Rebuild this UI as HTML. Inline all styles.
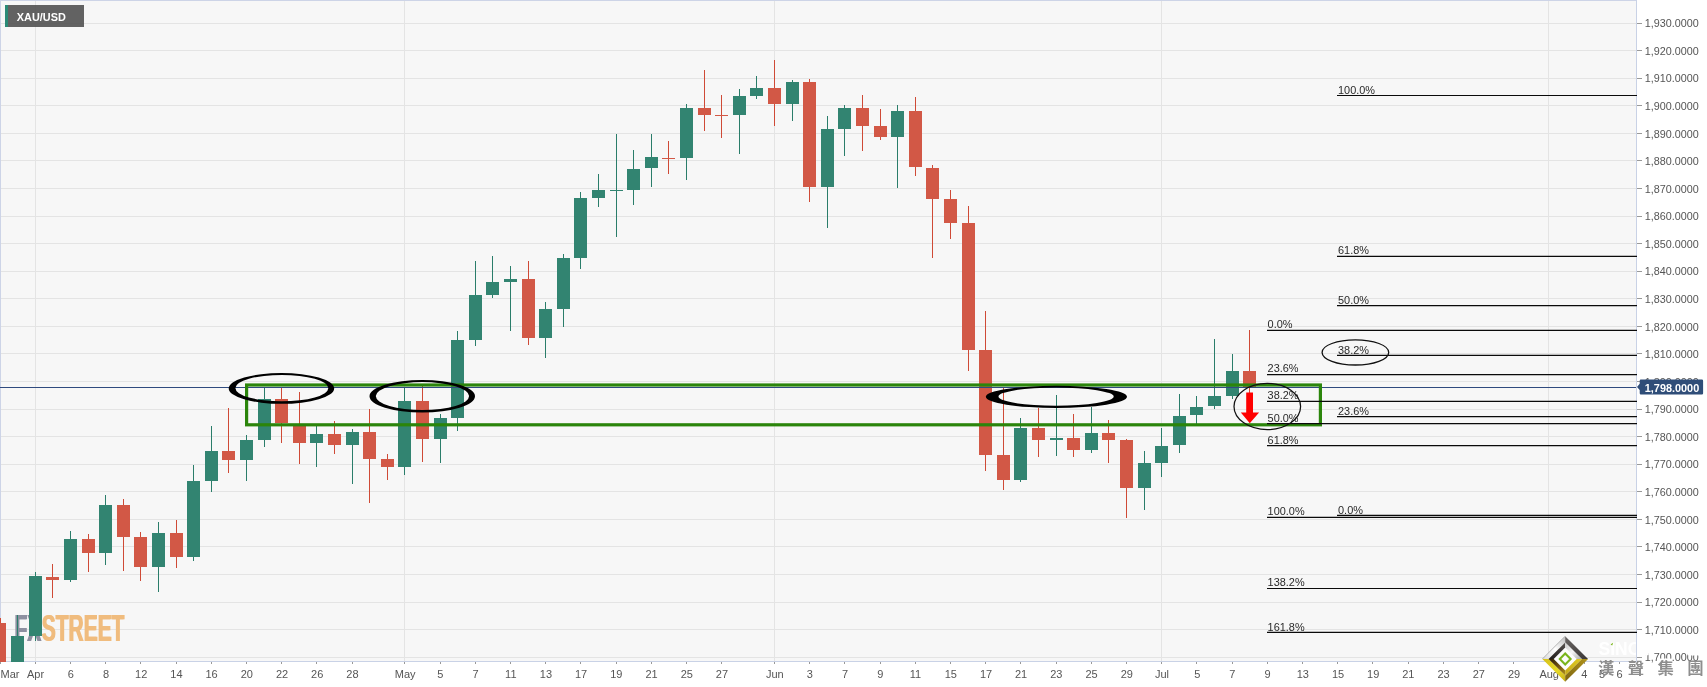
<!DOCTYPE html>
<html lang="en"><head><meta charset="utf-8"><title>XAU/USD</title>
<style>html,body{margin:0;padding:0;background:#fff;overflow:hidden}svg{display:block;will-change:transform}text{font-family:"Liberation Sans",sans-serif}.ax{font-size:11px;fill:#555}.fb{font-size:11px;fill:#2a2a2a}.cjk{font-family:"Liberation Sans","Noto Sans CJK TC","Noto Sans CJK SC",sans-serif}.wf{filter:drop-shadow(1px 0 0 #8d90a0)}.ws{filter:drop-shadow(1px 0 0 #f0bc7e)}</style></head><body>
<svg width="1707" height="687" viewBox="0 0 1707 687">
<rect x="0" y="0" width="1707" height="687" fill="#ffffff"/>
<rect x="0" y="0" width="1636" height="661" fill="#f7f7f7"/>
<g stroke="#e4e4e4" stroke-width="1" shape-rendering="crispEdges">
<line x1="0" y1="657.5" x2="1636" y2="657.5"/>
<line x1="0" y1="629.5" x2="1636" y2="629.5"/>
<line x1="0" y1="602.5" x2="1636" y2="602.5"/>
<line x1="0" y1="574.5" x2="1636" y2="574.5"/>
<line x1="0" y1="546.5" x2="1636" y2="546.5"/>
<line x1="0" y1="519.5" x2="1636" y2="519.5"/>
<line x1="0" y1="491.5" x2="1636" y2="491.5"/>
<line x1="0" y1="464.5" x2="1636" y2="464.5"/>
<line x1="0" y1="436.5" x2="1636" y2="436.5"/>
<line x1="0" y1="409.5" x2="1636" y2="409.5"/>
<line x1="0" y1="381.5" x2="1636" y2="381.5"/>
<line x1="0" y1="353.5" x2="1636" y2="353.5"/>
<line x1="0" y1="326.5" x2="1636" y2="326.5"/>
<line x1="0" y1="298.5" x2="1636" y2="298.5"/>
<line x1="0" y1="271.5" x2="1636" y2="271.5"/>
<line x1="0" y1="243.5" x2="1636" y2="243.5"/>
<line x1="0" y1="216.5" x2="1636" y2="216.5"/>
<line x1="0" y1="188.5" x2="1636" y2="188.5"/>
<line x1="0" y1="160.5" x2="1636" y2="160.5"/>
<line x1="0" y1="133.5" x2="1636" y2="133.5"/>
<line x1="0" y1="105.5" x2="1636" y2="105.5"/>
<line x1="0" y1="78.5" x2="1636" y2="78.5"/>
<line x1="0" y1="50.5" x2="1636" y2="50.5"/>
<line x1="0" y1="23.5" x2="1636" y2="23.5"/>
<line x1="35.5" y1="0" x2="35.5" y2="661"/>
<line x1="404.5" y1="0" x2="404.5" y2="661"/>
<line x1="774.5" y1="0" x2="774.5" y2="661"/>
<line x1="1161.5" y1="0" x2="1161.5" y2="661"/>
<line x1="1548.5" y1="0" x2="1548.5" y2="661"/>
</g>
<rect x="0" y="0" width="1636" height="1" fill="#cdd4e7" shape-rendering="crispEdges"/>
<rect x="0" y="0" width="1" height="661" fill="#cdd4e7" shape-rendering="crispEdges"/>
<rect x="1636" y="0" width="1" height="662" fill="#c9d2e6" shape-rendering="crispEdges"/>
<rect x="0" y="661" width="1637" height="1" fill="#c9d2e6" shape-rendering="crispEdges"/>
<g font-weight="bold" font-size="36.8px"><text class="wf" x="13.9" y="641.4" fill="#8d90a0" textLength="26.8" lengthAdjust="spacingAndGlyphs">FX</text><text class="ws" x="41.3" y="641.4" fill="#f0bc7e" textLength="82.6" lengthAdjust="spacingAndGlyphs">STREET</text></g>
<clipPath id="pc"><rect x="0" y="0" width="1636" height="662"/></clipPath>
<g clip-path="url(#pc)" shape-rendering="crispEdges">
<rect x="0" y="618" width="1" height="52" fill="#cf4a36"/>
<rect x="-6" y="623" width="12.4" height="47" fill="#d25846"/>
<rect x="17" y="615" width="1" height="55" fill="#2a7d6a"/>
<rect x="11" y="636" width="13" height="34" fill="#328471"/>
<rect x="35" y="572" width="1" height="69" fill="#2a7d6a"/>
<rect x="29" y="576" width="13" height="60" fill="#328471"/>
<rect x="52" y="564" width="1" height="34" fill="#cf4a36"/>
<rect x="46" y="577" width="13" height="3" fill="#d25846"/>
<rect x="70" y="531" width="1" height="51" fill="#2a7d6a"/>
<rect x="64" y="539" width="13" height="41" fill="#328471"/>
<rect x="88" y="534" width="1" height="38" fill="#cf4a36"/>
<rect x="82" y="539" width="13" height="14" fill="#d25846"/>
<rect x="105" y="495" width="1" height="70" fill="#2a7d6a"/>
<rect x="99" y="505" width="13" height="48" fill="#328471"/>
<rect x="123" y="499" width="1" height="72" fill="#cf4a36"/>
<rect x="117" y="505" width="13" height="32" fill="#d25846"/>
<rect x="140" y="532" width="1" height="49" fill="#cf4a36"/>
<rect x="134" y="537" width="13" height="30" fill="#d25846"/>
<rect x="158" y="522" width="1" height="70" fill="#2a7d6a"/>
<rect x="152" y="533" width="13" height="34" fill="#328471"/>
<rect x="176" y="520" width="1" height="48" fill="#cf4a36"/>
<rect x="170" y="533" width="13" height="24" fill="#d25846"/>
<rect x="193" y="465" width="1" height="96" fill="#2a7d6a"/>
<rect x="187" y="481" width="13" height="76" fill="#328471"/>
<rect x="211" y="426" width="1" height="66" fill="#2a7d6a"/>
<rect x="205" y="451" width="13" height="30" fill="#328471"/>
<rect x="228" y="408" width="1" height="65" fill="#cf4a36"/>
<rect x="222" y="451" width="13" height="9" fill="#d25846"/>
<rect x="246" y="435" width="1" height="46" fill="#2a7d6a"/>
<rect x="240" y="440" width="13" height="20" fill="#328471"/>
<rect x="264" y="388" width="1" height="59" fill="#2a7d6a"/>
<rect x="258" y="399" width="13" height="41" fill="#328471"/>
<rect x="281" y="388" width="1" height="55" fill="#cf4a36"/>
<rect x="275" y="399" width="13" height="24" fill="#d25846"/>
<rect x="299" y="392" width="1" height="72" fill="#cf4a36"/>
<rect x="293" y="426" width="13" height="17" fill="#d25846"/>
<rect x="316" y="426" width="1" height="41" fill="#2a7d6a"/>
<rect x="310" y="434" width="13" height="9" fill="#328471"/>
<rect x="334" y="421" width="1" height="33" fill="#cf4a36"/>
<rect x="328" y="434" width="13" height="11" fill="#d25846"/>
<rect x="352" y="429" width="1" height="55" fill="#2a7d6a"/>
<rect x="346" y="432" width="13" height="13" fill="#328471"/>
<rect x="369" y="409" width="1" height="94" fill="#cf4a36"/>
<rect x="363" y="432" width="13" height="27" fill="#d25846"/>
<rect x="387" y="454" width="1" height="26" fill="#cf4a36"/>
<rect x="381" y="459" width="13" height="8" fill="#d25846"/>
<rect x="404" y="388" width="1" height="87" fill="#2a7d6a"/>
<rect x="398" y="401" width="13" height="66" fill="#328471"/>
<rect x="422" y="386" width="1" height="76" fill="#cf4a36"/>
<rect x="416" y="401" width="13" height="38" fill="#d25846"/>
<rect x="440" y="414" width="1" height="49" fill="#2a7d6a"/>
<rect x="434" y="418" width="13" height="21" fill="#328471"/>
<rect x="457" y="331" width="1" height="100" fill="#2a7d6a"/>
<rect x="451" y="340" width="13" height="78" fill="#328471"/>
<rect x="475" y="261" width="1" height="85" fill="#2a7d6a"/>
<rect x="469" y="295" width="13" height="45" fill="#328471"/>
<rect x="492" y="256" width="1" height="42" fill="#2a7d6a"/>
<rect x="486" y="282" width="13" height="13" fill="#328471"/>
<rect x="510" y="266" width="1" height="65" fill="#2a7d6a"/>
<rect x="504" y="279" width="13" height="3" fill="#328471"/>
<rect x="528" y="261" width="1" height="84" fill="#cf4a36"/>
<rect x="522" y="279" width="13" height="59" fill="#d25846"/>
<rect x="545" y="302" width="1" height="56" fill="#2a7d6a"/>
<rect x="539" y="309" width="13" height="29" fill="#328471"/>
<rect x="563" y="254" width="1" height="73" fill="#2a7d6a"/>
<rect x="557" y="258" width="13" height="51" fill="#328471"/>
<rect x="580" y="192" width="1" height="77" fill="#2a7d6a"/>
<rect x="574" y="198" width="13" height="60" fill="#328471"/>
<rect x="598" y="174" width="1" height="33" fill="#2a7d6a"/>
<rect x="592" y="190" width="13" height="8" fill="#328471"/>
<rect x="616" y="134" width="1" height="103" fill="#2a7d6a"/>
<rect x="610" y="190" width="13" height="1" fill="#328471"/>
<rect x="633" y="150" width="1" height="55" fill="#2a7d6a"/>
<rect x="627" y="169" width="13" height="21" fill="#328471"/>
<rect x="651" y="134" width="1" height="53" fill="#2a7d6a"/>
<rect x="645" y="157" width="13" height="11" fill="#328471"/>
<rect x="668" y="141" width="1" height="33" fill="#cf4a36"/>
<rect x="662" y="158" width="13" height="1" fill="#d25846"/>
<rect x="686" y="104" width="1" height="76" fill="#2a7d6a"/>
<rect x="680" y="108" width="13" height="50" fill="#328471"/>
<rect x="704" y="70" width="1" height="61" fill="#cf4a36"/>
<rect x="698" y="108" width="13" height="7" fill="#d25846"/>
<rect x="721" y="95" width="1" height="43" fill="#cf4a36"/>
<rect x="715" y="115" width="13" height="1" fill="#d25846"/>
<rect x="739" y="89" width="1" height="65" fill="#2a7d6a"/>
<rect x="733" y="96" width="13" height="19" fill="#328471"/>
<rect x="756" y="76" width="1" height="23" fill="#2a7d6a"/>
<rect x="750" y="88" width="13" height="8" fill="#328471"/>
<rect x="774" y="60" width="1" height="66" fill="#cf4a36"/>
<rect x="768" y="88" width="13" height="16" fill="#d25846"/>
<rect x="792" y="80" width="1" height="41" fill="#2a7d6a"/>
<rect x="786" y="82" width="13" height="22" fill="#328471"/>
<rect x="809" y="79" width="1" height="123" fill="#cf4a36"/>
<rect x="803" y="82" width="13" height="105" fill="#d25846"/>
<rect x="827" y="116" width="1" height="112" fill="#2a7d6a"/>
<rect x="821" y="129" width="13" height="58" fill="#328471"/>
<rect x="844" y="105" width="1" height="51" fill="#2a7d6a"/>
<rect x="838" y="108" width="13" height="21" fill="#328471"/>
<rect x="862" y="95" width="1" height="56" fill="#cf4a36"/>
<rect x="856" y="108" width="13" height="18" fill="#d25846"/>
<rect x="880" y="109" width="1" height="31" fill="#cf4a36"/>
<rect x="874" y="126" width="13" height="11" fill="#d25846"/>
<rect x="897" y="105" width="1" height="83" fill="#2a7d6a"/>
<rect x="891" y="111" width="13" height="26" fill="#328471"/>
<rect x="915" y="97" width="1" height="79" fill="#cf4a36"/>
<rect x="909" y="111" width="13" height="56" fill="#d25846"/>
<rect x="932" y="165" width="1" height="93" fill="#cf4a36"/>
<rect x="926" y="168" width="13" height="31" fill="#d25846"/>
<rect x="950" y="190" width="1" height="49" fill="#cf4a36"/>
<rect x="944" y="199" width="13" height="24" fill="#d25846"/>
<rect x="968" y="206" width="1" height="165" fill="#cf4a36"/>
<rect x="962" y="223" width="13" height="127" fill="#d25846"/>
<rect x="985" y="311" width="1" height="160" fill="#cf4a36"/>
<rect x="979" y="350" width="13" height="105" fill="#d25846"/>
<rect x="1003" y="388" width="1" height="102" fill="#cf4a36"/>
<rect x="997" y="455" width="13" height="25" fill="#d25846"/>
<rect x="1020" y="418" width="1" height="64" fill="#2a7d6a"/>
<rect x="1014" y="428" width="13" height="52" fill="#328471"/>
<rect x="1038" y="408" width="1" height="49" fill="#cf4a36"/>
<rect x="1032" y="428" width="13" height="12" fill="#d25846"/>
<rect x="1056" y="395" width="1" height="61" fill="#2a7d6a"/>
<rect x="1050" y="438" width="13" height="2" fill="#328471"/>
<rect x="1073" y="414" width="1" height="43" fill="#cf4a36"/>
<rect x="1067" y="438" width="13" height="12" fill="#d25846"/>
<rect x="1091" y="407" width="1" height="46" fill="#2a7d6a"/>
<rect x="1085" y="433" width="13" height="17" fill="#328471"/>
<rect x="1108" y="420" width="1" height="43" fill="#cf4a36"/>
<rect x="1102" y="433" width="13" height="7" fill="#d25846"/>
<rect x="1126" y="439" width="1" height="79" fill="#cf4a36"/>
<rect x="1120" y="440" width="13" height="48" fill="#d25846"/>
<rect x="1144" y="451" width="1" height="59" fill="#2a7d6a"/>
<rect x="1138" y="463" width="13" height="25" fill="#328471"/>
<rect x="1161" y="428" width="1" height="49" fill="#2a7d6a"/>
<rect x="1155" y="446" width="13" height="17" fill="#328471"/>
<rect x="1179" y="394" width="1" height="59" fill="#2a7d6a"/>
<rect x="1173" y="416" width="13" height="29" fill="#328471"/>
<rect x="1196" y="396" width="1" height="28" fill="#2a7d6a"/>
<rect x="1190" y="407" width="13" height="8" fill="#328471"/>
<rect x="1214" y="339" width="1" height="70" fill="#2a7d6a"/>
<rect x="1208" y="396" width="13" height="10" fill="#328471"/>
<rect x="1232" y="354" width="1" height="45" fill="#2a7d6a"/>
<rect x="1226" y="371" width="13" height="25" fill="#328471"/>
<rect x="1249" y="330" width="1" height="63" fill="#cf4a36"/>
<rect x="1243" y="371" width="13" height="16" fill="#d25846"/>
</g>
<rect x="0" y="387" width="1636" height="1" fill="#2f4a7e" shape-rendering="crispEdges"/>
<rect x="246.6" y="385" width="1073.8" height="39.8" fill="none" stroke="#2b850b" stroke-width="3.2"/>
<g stroke="#0a0a0a" stroke-width="1.2">
<line x1="1267" y1="330.45" x2="1637" y2="330.45"/>
<line x1="1267" y1="374.55" x2="1637" y2="374.55"/>
<line x1="1267" y1="401.4" x2="1637" y2="401.4"/>
<line x1="1267" y1="423.6" x2="1637" y2="423.6"/>
<line x1="1267" y1="445.7" x2="1637" y2="445.7"/>
<line x1="1267" y1="517.45" x2="1637" y2="517.45"/>
<line x1="1267" y1="588.5" x2="1637" y2="588.5"/>
<line x1="1267" y1="632.3" x2="1637" y2="632.3"/>
<line x1="1337" y1="95.5" x2="1637" y2="95.5"/>
<line x1="1337" y1="256.4" x2="1637" y2="256.4"/>
<line x1="1337" y1="305.65" x2="1637" y2="305.65"/>
<line x1="1337" y1="355.4" x2="1637" y2="355.4"/>
<line x1="1337" y1="416.7" x2="1637" y2="416.7"/>
<line x1="1337" y1="515.45" x2="1637" y2="515.45"/>
</g>
<g class="fb">
<text x="1267.6" y="328" textLength="25" lengthAdjust="spacingAndGlyphs">0.0%</text>
<text x="1267.6" y="372" textLength="31" lengthAdjust="spacingAndGlyphs">23.6%</text>
<text x="1267.6" y="399" textLength="31" lengthAdjust="spacingAndGlyphs">38.2%</text>
<text x="1267.6" y="422" textLength="31" lengthAdjust="spacingAndGlyphs">50.0%</text>
<text x="1267.6" y="444" textLength="31" lengthAdjust="spacingAndGlyphs">61.8%</text>
<text x="1267.6" y="515" textLength="37" lengthAdjust="spacingAndGlyphs">100.0%</text>
<text x="1267.6" y="586" textLength="37" lengthAdjust="spacingAndGlyphs">138.2%</text>
<text x="1267.6" y="630.7" textLength="37" lengthAdjust="spacingAndGlyphs">161.8%</text>
<text x="1338" y="94" textLength="37" lengthAdjust="spacingAndGlyphs">100.0%</text>
<text x="1338" y="254" textLength="31" lengthAdjust="spacingAndGlyphs">61.8%</text>
<text x="1338" y="303.5" textLength="31" lengthAdjust="spacingAndGlyphs">50.0%</text>
<text x="1338" y="353.8" textLength="31" lengthAdjust="spacingAndGlyphs">38.2%</text>
<text x="1338" y="415" textLength="31" lengthAdjust="spacingAndGlyphs">23.6%</text>
<text x="1338" y="513.5" textLength="25" lengthAdjust="spacingAndGlyphs">0.0%</text>
</g>
<path fill="#000" fill-rule="evenodd" d="M228.70,388.40a52.75,15.4 0 1,0 105.5,0a52.75,15.4 0 1,0 -105.5,0zM235.35,388.10a46.5,13.2 0 1,0 93.0,0a46.5,13.2 0 1,0 -93.0,0z"/>
<path fill="#000" fill-rule="evenodd" d="M369.50,396.25a52.75,16.25 0 1,0 105.5,0a52.75,16.25 0 1,0 -105.5,0zM375.80,396.10a46.65,14.0 0 1,0 93.3,0a46.65,14.0 0 1,0 -93.3,0z"/>
<path fill="#000" fill-rule="evenodd" d="M985.80,396.85a70.6,11.05 0 1,0 141.2,0a70.6,11.05 0 1,0 -141.2,0zM998.50,396.60a57.6,9.1 0 1,0 115.2,0a57.6,9.1 0 1,0 -115.2,0z"/>
<ellipse cx="1267.3" cy="406.5" rx="33.3" ry="23.1" fill="none" stroke="#111" stroke-width="1.25"/>
<ellipse cx="1355.4" cy="352.4" rx="33.3" ry="12.6" fill="none" stroke="#111" stroke-width="1.3"/>
<path fill="#ff0000" d="M1246.2,392.5H1253V412.4H1259.1L1249.8,423.2L1240.8,412.4H1246.2z"/>
<g fill="#999" shape-rendering="crispEdges">
<rect x="1637" y="657" width="5" height="1"/>
<rect x="1637" y="629" width="5" height="1"/>
<rect x="1637" y="602" width="5" height="1"/>
<rect x="1637" y="574" width="5" height="1"/>
<rect x="1637" y="546" width="5" height="1"/>
<rect x="1637" y="519" width="5" height="1"/>
<rect x="1637" y="491" width="5" height="1"/>
<rect x="1637" y="464" width="5" height="1"/>
<rect x="1637" y="436" width="5" height="1"/>
<rect x="1637" y="409" width="5" height="1"/>
<rect x="1637" y="381" width="5" height="1"/>
<rect x="1637" y="353" width="5" height="1"/>
<rect x="1637" y="326" width="5" height="1"/>
<rect x="1637" y="298" width="5" height="1"/>
<rect x="1637" y="271" width="5" height="1"/>
<rect x="1637" y="243" width="5" height="1"/>
<rect x="1637" y="216" width="5" height="1"/>
<rect x="1637" y="188" width="5" height="1"/>
<rect x="1637" y="160" width="5" height="1"/>
<rect x="1637" y="133" width="5" height="1"/>
<rect x="1637" y="105" width="5" height="1"/>
<rect x="1637" y="78" width="5" height="1"/>
<rect x="1637" y="50" width="5" height="1"/>
<rect x="1637" y="23" width="5" height="1"/>
</g><g class="ax">
<text x="1644.8" y="661.3" textLength="54" lengthAdjust="spacingAndGlyphs">1,700.0000</text>
<text x="1644.8" y="633.7" textLength="54" lengthAdjust="spacingAndGlyphs">1,710.0000</text>
<text x="1644.8" y="606.2" textLength="54" lengthAdjust="spacingAndGlyphs">1,720.0000</text>
<text x="1644.8" y="578.6" textLength="54" lengthAdjust="spacingAndGlyphs">1,730.0000</text>
<text x="1644.8" y="551.0" textLength="54" lengthAdjust="spacingAndGlyphs">1,740.0000</text>
<text x="1644.8" y="523.5" textLength="54" lengthAdjust="spacingAndGlyphs">1,750.0000</text>
<text x="1644.8" y="495.9" textLength="54" lengthAdjust="spacingAndGlyphs">1,760.0000</text>
<text x="1644.8" y="468.3" textLength="54" lengthAdjust="spacingAndGlyphs">1,770.0000</text>
<text x="1644.8" y="440.8" textLength="54" lengthAdjust="spacingAndGlyphs">1,780.0000</text>
<text x="1644.8" y="413.2" textLength="54" lengthAdjust="spacingAndGlyphs">1,790.0000</text>
<text x="1644.8" y="385.6" textLength="54" lengthAdjust="spacingAndGlyphs">1,800.0000</text>
<text x="1644.8" y="358.0" textLength="54" lengthAdjust="spacingAndGlyphs">1,810.0000</text>
<text x="1644.8" y="330.5" textLength="54" lengthAdjust="spacingAndGlyphs">1,820.0000</text>
<text x="1644.8" y="302.9" textLength="54" lengthAdjust="spacingAndGlyphs">1,830.0000</text>
<text x="1644.8" y="275.3" textLength="54" lengthAdjust="spacingAndGlyphs">1,840.0000</text>
<text x="1644.8" y="247.8" textLength="54" lengthAdjust="spacingAndGlyphs">1,850.0000</text>
<text x="1644.8" y="220.2" textLength="54" lengthAdjust="spacingAndGlyphs">1,860.0000</text>
<text x="1644.8" y="192.6" textLength="54" lengthAdjust="spacingAndGlyphs">1,870.0000</text>
<text x="1644.8" y="165.0" textLength="54" lengthAdjust="spacingAndGlyphs">1,880.0000</text>
<text x="1644.8" y="137.5" textLength="54" lengthAdjust="spacingAndGlyphs">1,890.0000</text>
<text x="1644.8" y="109.9" textLength="54" lengthAdjust="spacingAndGlyphs">1,900.0000</text>
<text x="1644.8" y="82.3" textLength="54" lengthAdjust="spacingAndGlyphs">1,910.0000</text>
<text x="1644.8" y="54.8" textLength="54" lengthAdjust="spacingAndGlyphs">1,920.0000</text>
<text x="1644.8" y="27.2" textLength="54" lengthAdjust="spacingAndGlyphs">1,930.0000</text>
</g>
<g fill="#999" shape-rendering="crispEdges">
<rect x="0" y="662" width="1" height="2"/>
<rect x="35" y="662" width="1" height="2"/>
<rect x="70" y="662" width="1" height="2"/>
<rect x="105" y="662" width="1" height="2"/>
<rect x="140" y="662" width="1" height="2"/>
<rect x="176" y="662" width="1" height="2"/>
<rect x="211" y="662" width="1" height="2"/>
<rect x="246" y="662" width="1" height="2"/>
<rect x="281" y="662" width="1" height="2"/>
<rect x="316" y="662" width="1" height="2"/>
<rect x="352" y="662" width="1" height="2"/>
<rect x="404" y="662" width="1" height="2"/>
<rect x="440" y="662" width="1" height="2"/>
<rect x="475" y="662" width="1" height="2"/>
<rect x="510" y="662" width="1" height="2"/>
<rect x="545" y="662" width="1" height="2"/>
<rect x="580" y="662" width="1" height="2"/>
<rect x="616" y="662" width="1" height="2"/>
<rect x="651" y="662" width="1" height="2"/>
<rect x="686" y="662" width="1" height="2"/>
<rect x="721" y="662" width="1" height="2"/>
<rect x="774" y="662" width="1" height="2"/>
<rect x="809" y="662" width="1" height="2"/>
<rect x="844" y="662" width="1" height="2"/>
<rect x="880" y="662" width="1" height="2"/>
<rect x="915" y="662" width="1" height="2"/>
<rect x="950" y="662" width="1" height="2"/>
<rect x="985" y="662" width="1" height="2"/>
<rect x="1020" y="662" width="1" height="2"/>
<rect x="1056" y="662" width="1" height="2"/>
<rect x="1091" y="662" width="1" height="2"/>
<rect x="1126" y="662" width="1" height="2"/>
<rect x="1161" y="662" width="1" height="2"/>
<rect x="1196" y="662" width="1" height="2"/>
<rect x="1232" y="662" width="1" height="2"/>
<rect x="1267" y="662" width="1" height="2"/>
<rect x="1302" y="662" width="1" height="2"/>
<rect x="1337" y="662" width="1" height="2"/>
<rect x="1372" y="662" width="1" height="2"/>
<rect x="1408" y="662" width="1" height="2"/>
<rect x="1443" y="662" width="1" height="2"/>
<rect x="1478" y="662" width="1" height="2"/>
<rect x="1513" y="662" width="1" height="2"/>
<rect x="1548" y="662" width="1" height="2"/>
<rect x="1584" y="662" width="1" height="2"/>
<rect x="1601" y="662" width="1" height="2"/>
<rect x="1619" y="662" width="1" height="2"/>
</g><g class="ax" text-anchor="middle">
<text x="35.5" y="678.3">Apr</text>
<text x="70.8" y="678.3">6</text>
<text x="106.0" y="678.3">8</text>
<text x="141.2" y="678.3">12</text>
<text x="176.4" y="678.3">14</text>
<text x="211.6" y="678.3">16</text>
<text x="246.8" y="678.3">20</text>
<text x="282.0" y="678.3">22</text>
<text x="317.2" y="678.3">26</text>
<text x="352.4" y="678.3">28</text>
<text x="405.2" y="678.3">May</text>
<text x="440.4" y="678.3">5</text>
<text x="475.6" y="678.3">7</text>
<text x="510.8" y="678.3">11</text>
<text x="545.9" y="678.3">13</text>
<text x="581.1" y="678.3">17</text>
<text x="616.3" y="678.3">19</text>
<text x="651.5" y="678.3">21</text>
<text x="686.8" y="678.3">25</text>
<text x="721.9" y="678.3">27</text>
<text x="774.8" y="678.3">Jun</text>
<text x="809.9" y="678.3">3</text>
<text x="845.1" y="678.3">7</text>
<text x="880.4" y="678.3">9</text>
<text x="915.5" y="678.3">11</text>
<text x="950.8" y="678.3">15</text>
<text x="986.0" y="678.3">17</text>
<text x="1021.1" y="678.3">21</text>
<text x="1056.3" y="678.3">23</text>
<text x="1091.5" y="678.3">25</text>
<text x="1126.8" y="678.3">29</text>
<text x="1162.0" y="678.3">Jul</text>
<text x="1197.2" y="678.3">5</text>
<text x="1232.3" y="678.3">7</text>
<text x="1267.5" y="678.3">9</text>
<text x="1302.8" y="678.3">13</text>
<text x="1338.0" y="678.3">15</text>
<text x="1373.2" y="678.3">19</text>
<text x="1408.3" y="678.3">21</text>
<text x="1443.5" y="678.3">23</text>
<text x="1478.8" y="678.3">27</text>
<text x="1514.0" y="678.3">29</text>
<text x="1549.2" y="678.3">Aug</text>
<text x="1584.4" y="678.3">4</text>
<text x="1602.0" y="678.3">5</text>
<text x="1619.5" y="678.3">6</text>
</g>
<text class="ax" x="0.6" y="678.3">Mar</text>
<path fill="#2f4d78" d="M1637,386.9L1639.7,383.7V380.8a1.2,1.2 0 0 1 1.2,-1.2H1701.9a1.2,1.2 0 0 1 1.2,1.2V393.3a1.2,1.2 0 0 1 -1.2,1.2H1640.9a1.2,1.2 0 0 1 -1.2,-1.2V390.1z"/>
<text x="1644.8" y="391.8" font-size="11px" font-weight="bold" fill="#fff" textLength="54.4" lengthAdjust="spacingAndGlyphs">1,798.0000</text>
<rect x="5" y="5" width="79" height="22" fill="#515151" fill-opacity="0.9"/>
<rect x="5" y="5" width="3" height="22" fill="#2a8a76"/>
<text x="16.8" y="21" font-size="11px" font-weight="bold" fill="#fff" textLength="49" lengthAdjust="spacingAndGlyphs">XAU/USD</text>
<defs><linearGradient id="gA" x1="0" y1="1" x2="1" y2="0"><stop offset="0" stop-color="#d9d9d9"/><stop offset="0.5" stop-color="#ffffff"/><stop offset="1" stop-color="#bcbcbc"/></linearGradient><linearGradient id="gB" x1="0" y1="1" x2="1" y2="0"><stop offset="0" stop-color="#1f1a18"/><stop offset="1" stop-color="#55504e"/></linearGradient><linearGradient id="gC" x1="0" y1="0" x2="1" y2="1"><stop offset="0" stop-color="#6a6665"/><stop offset="1" stop-color="#3a3635"/></linearGradient><linearGradient id="gD" x1="0" y1="0" x2="1" y2="1"><stop offset="0" stop-color="#c9c9c9"/><stop offset="0.5" stop-color="#f6f6f6"/><stop offset="1" stop-color="#a9a9a9"/></linearGradient><linearGradient id="gE" x1="0" y1="0" x2="1" y2="1"><stop offset="0" stop-color="#d6c11a"/><stop offset="0.6" stop-color="#e6d826"/><stop offset="1" stop-color="#c7ae18"/></linearGradient><linearGradient id="gF" x1="0" y1="0" x2="1" y2="1"><stop offset="0" stop-color="#2a1a08"/><stop offset="0.6" stop-color="#7a5a12"/><stop offset="1" stop-color="#b3951a"/></linearGradient><linearGradient id="gG" x1="0" y1="1" x2="1" y2="0"><stop offset="0" stop-color="#7d6512"/><stop offset="1" stop-color="#b0921a"/></linearGradient><linearGradient id="gH" x1="0" y1="1" x2="1" y2="0"><stop offset="0" stop-color="#c4a818"/><stop offset="1" stop-color="#e0cb22"/></linearGradient></defs>
<polygon fill="#fdfdfd" points="1565.20,647.40 1576.70,659.00 1565.20,670.60 1553.70,659.00"/>
<polygon fill="url(#gA)" points="1542.35,659.00 1565.20,636.15 1565.20,642.40 1548.60,659.00"/>
<polygon fill="url(#gB)" points="1548.60,659.00 1565.20,642.40 1565.20,647.40 1553.70,659.00"/>
<polygon fill="url(#gC)" points="1565.20,636.15 1588.05,659.00 1581.80,659.00 1565.20,642.40"/>
<polygon fill="url(#gD)" points="1565.20,642.40 1581.80,659.00 1576.70,659.00 1565.20,647.40"/>
<polygon fill="url(#gE)" points="1542.35,659.00 1565.20,681.85 1565.20,675.60 1548.60,659.00"/>
<polygon fill="url(#gF)" points="1548.60,659.00 1565.20,675.60 1565.20,670.60 1553.70,659.00"/>
<polygon fill="url(#gG)" points="1565.20,681.85 1588.05,659.00 1581.80,659.00 1565.20,675.60"/>
<polygon fill="url(#gH)" points="1565.20,675.60 1581.80,659.00 1576.70,659.00 1565.20,670.60"/>
<polyline fill="none" stroke="#9a9a9a" stroke-width="0.7" points="1542.35,659.00 1565.20,636.15"/>
<polygon fill="none" stroke="#7ab51d" stroke-width="2.1" stroke-linejoin="miter" points="1565.20,653.50 1570.60,659.00 1565.20,664.50 1559.80,659.00"/>
<clipPath id="lc"><rect x="1590" y="636" width="46" height="26"/></clipPath>
<g clip-path="url(#lc)"><text x="1598.5" y="655.3" font-size="17.5px" font-weight="bold" fill="#ffffff">SINO</text><path fill="#7ab51d" d="M1610.6,644.6l2.6,-2.2l-1,3z"/></g>
<g fill="#ffffff"><rect x="1644.4" y="652" width="4.4" height="3.2" rx="1"/><rect x="1659.5" y="658.6" width="12" height="3.2" rx="1"/><rect x="1687.5" y="652" width="12" height="3.6" rx="1"/></g>
<text class="cjk" x="1598.1" y="674.0" font-size="16.4px" font-weight="bold" fill="#8e8e8e" letter-spacing="13.3">漢聲集團</text>
</svg></body></html>
